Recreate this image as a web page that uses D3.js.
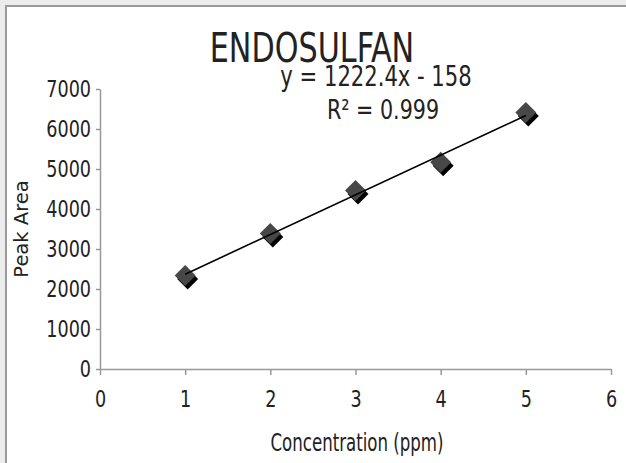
<!DOCTYPE html>
<html>
<head>
<meta charset="utf-8">
<script src="https://cdn.jsdelivr.net/npm/d3@7"></script>
<style>
  html, body { margin: 0; padding: 0; background: #fff; }
  svg text { font-family: "DejaVu Sans Condensed", "Liberation Sans Narrow", "Liberation Sans", sans-serif; fill: #222; }
</style>
</head>
<body>
<div id="chart"></div>
<script>
// data
var concentration = [1, 2, 3, 4, 5];
var peakArea = [2340, 3390, 4460, 5170, 6410];
var xTicks = [0, 1, 2, 3, 4, 5, 6];
var yTicks = [0, 1000, 2000, 3000, 4000, 5000, 6000, 7000];
var title = "ENDOSULFAN";
var equationText = "y = 1222.4x - 158";
var r2Text = "R² = 0.999";
var xTitle = "Concentration (ppm)";
var yTitle = "Peak Area";

var w = 626, h = 463;

var svg = d3.select("#chart").append("svg")
  .attr("width", w)
  .attr("height", h);

// grey frame round the chart
svg.append("rect").attr("width", w).attr("height", h).attr("fill", "#ececec");
svg.append("rect")
  .attr("x", 6).attr("y", 6)
  .attr("width", w).attr("height", h)
  .attr("fill", "#fff")
  .attr("stroke", "#9a9a9a")
  .attr("stroke-width", 2);

var xScale = d3.scaleLinear().domain([0, 6]).range([100, 611]);
var yScale = d3.scaleLinear().domain([0, 7000]).range([369, 89]);

// the chart's lettering is tall and narrow: squeeze text sideways
function squeeze(sel, sx) {
  sel.each(function() {
    var t = d3.select(this);
    var x = +t.attr("x") || 0;
    t.attr("x", x / sx).attr("transform", "scale(" + sx + ",1)");
  });
}

var xAxis = svg.append("g")
  .attr("transform", "translate(0," + yScale(0) + ")")
  .call(d3.axisBottom(xScale).tickValues(xTicks).tickSize(6).tickSizeOuter(0).tickPadding(16).tickFormat(d3.format("d")));

var yAxis = svg.append("g")
  .attr("transform", "translate(" + xScale(0) + ",0)")
  .call(d3.axisLeft(yScale).tickValues(yTicks).tickSize(4).tickSizeOuter(0).tickPadding(5).tickFormat(d3.format("d")));

[xAxis, yAxis].forEach(function(a) {
  a.select(".domain").attr("stroke", "#999").attr("stroke-width", 1.5);
  a.selectAll(".tick line").attr("stroke", "#999").attr("stroke-width", 1.5);
  a.selectAll(".tick text").attr("font-size", "23px").attr("fill", "#222")
    .style("font-family", null);
  squeeze(a.selectAll(".tick text"), 0.85);
});

// least squares trend line through the points
var n = concentration.length;
var mx = d3.mean(concentration), my = d3.mean(peakArea);
var sxy = 0, sxx = 0;
for (i = 0; i < n; i++) {
  sxy += (concentration[i] - mx) * (peakArea[i] - my);
  sxx += (concentration[i] - mx) * (concentration[i] - mx);
}
var slope = sxy / sxx;
var intercept = my - slope * mx;
var xExt = d3.extent(concentration);
var trend = xExt.map(function(x) { return [x, intercept + slope * x]; });

var diamond = d3.symbol().type(d3.symbolSquare).size(220);

// marker shadows
svg.append("g").selectAll("path")
  .data(concentration)
  .enter()
  .append("path")
  .attr("d", diamond)
  .attr("transform", function(d, i) { return "translate(" + (xScale(d) + 2.5) + "," + (yScale(peakArea[i]) + 3.5) + ") rotate(45)"; })
  .attr("fill", "#000");

svg.append("g").selectAll("path")
  .data(concentration)
  .enter()
  .append("path")
  .attr("d", diamond)
  .attr("transform", function(d, i) { return "translate(" + xScale(d) + "," + yScale(peakArea[i]) + ") rotate(45)"; })
  .attr("fill", "#474747");

var line = d3.line().x(function(d) { return xScale(d[0]); }).y(function(d) { return yScale(d[1]); });
svg.append("path")
  .attr("d", line(trend))
  .attr("stroke", "#000")
  .attr("stroke-width", 1.6)
  .attr("fill", "none");

function label(txt, x, y, size, sx) {
  return svg.append("text")
    .attr("transform", "translate(" + x + "," + y + ") scale(" + sx + ",1)")
    .attr("text-anchor", "middle")
    .attr("font-size", size + "px")
    .text(txt);
}

label(title, 312, 62, 40, 0.84);
label(equationText, 376, 86, 29, 0.81);
label(r2Text, 383, 119, 27, 0.85);
label(xTitle, 357, 451, 24, 0.77);

svg.append("text")
  .attr("transform", "translate(28,229) rotate(-90)")
  .attr("text-anchor", "middle")
  .attr("font-size", "19.5px")
  .style("font-family", "'DejaVu Sans', sans-serif")
  .text(yTitle);
</script>
</body>
</html>
